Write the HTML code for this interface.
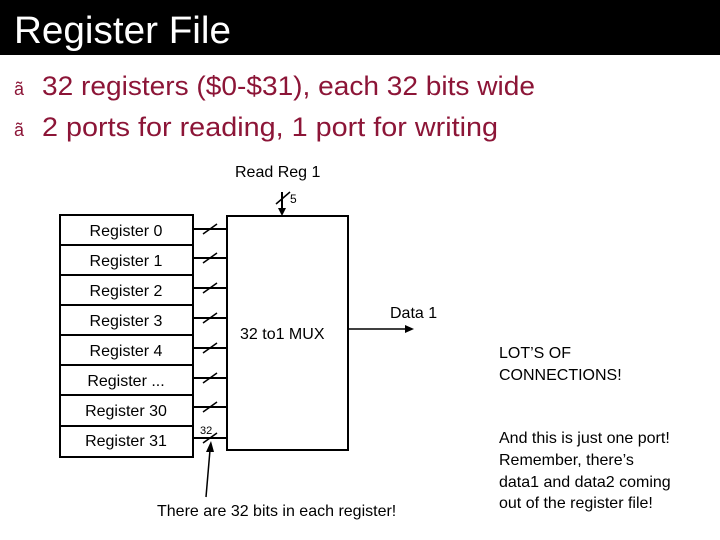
<!DOCTYPE html>
<html><head><style>
html,body{margin:0;padding:0;width:720px;height:540px;overflow:hidden;background:#fff}
svg{display:block}
</style></head><body>
<svg width="720" height="540" xmlns="http://www.w3.org/2000/svg" font-family="Liberation Sans, Arial, sans-serif">
<rect x="0" y="0" width="720" height="55" fill="#000"/>
<text x="14" y="43" fill="#fff" font-size="38" textLength="217" lengthAdjust="spacingAndGlyphs">Register File</text>
<g fill="#8c1537">
<text x="14" y="95" font-size="18">ã</text>
<text x="42" y="95" font-size="27" textLength="493" lengthAdjust="spacingAndGlyphs">32 registers ($0-$31), each 32 bits wide</text>
<text x="14" y="136" font-size="18">ã</text>
<text x="42" y="136" font-size="27" textLength="456" lengthAdjust="spacingAndGlyphs">2 ports for reading, 1 port for writing</text>
</g>
<g font-size="16" fill="#000">
<text x="235" y="177">Read Reg 1</text>
<text x="290" y="203" font-size="12">5</text>
<text x="390" y="318">Data 1</text>
<text x="240" y="339">32 to1 MUX</text>
<text x="499" y="358">LOT’S OF</text>
<text x="499" y="380">CONNECTIONS!</text>
<text x="499" y="443">And this is just one port!</text>
<text x="499" y="465">Remember, there’s</text>
<text x="499" y="487">data1 and data2 coming</text>
<text x="499" y="508">out of the register file!</text>
<text x="157" y="516">There are 32 bits in each register!</text>
<text x="200" y="434" font-size="11">32</text>
</g>
<g stroke="#000" fill="none" stroke-width="2">
<rect x="60" y="215" width="133" height="242"/>
<line x1="60" y1="245" x2="193" y2="245"/>
<line x1="60" y1="275" x2="193" y2="275"/>
<line x1="60" y1="305" x2="193" y2="305"/>
<line x1="60" y1="335" x2="193" y2="335"/>
<line x1="60" y1="365" x2="193" y2="365"/>
<line x1="60" y1="395" x2="193" y2="395"/>
<line x1="60" y1="426" x2="193" y2="426"/>
<rect x="227" y="216" width="121" height="234"/>
<line x1="282" y1="192" x2="282" y2="210"/>
<line x1="276" y1="204" x2="290" y2="192" stroke-width="1.5"/>
<line x1="348" y1="329" x2="408" y2="329" stroke-width="1.5"/>
</g>
<polygon points="282,216 278,208 286,208" fill="#000"/>
<polygon points="414,329 405,325 405,333" fill="#000"/>
<g stroke="#000" stroke-width="2">
<line x1="193" y1="229" x2="227" y2="229"/><line x1="203" y1="234" x2="217" y2="224" stroke-width="1.5"/>
<line x1="193" y1="258" x2="227" y2="258"/><line x1="203" y1="263" x2="217" y2="253" stroke-width="1.5"/>
<line x1="193" y1="288" x2="227" y2="288"/><line x1="203" y1="293" x2="217" y2="283" stroke-width="1.5"/>
<line x1="193" y1="318" x2="227" y2="318"/><line x1="203" y1="323" x2="217" y2="313" stroke-width="1.5"/>
<line x1="193" y1="348" x2="227" y2="348"/><line x1="203" y1="353" x2="217" y2="343" stroke-width="1.5"/>
<line x1="193" y1="378" x2="227" y2="378"/><line x1="203" y1="383" x2="217" y2="373" stroke-width="1.5"/>
<line x1="193" y1="407" x2="227" y2="407"/><line x1="203" y1="412" x2="217" y2="402" stroke-width="1.5"/>
<line x1="193" y1="438" x2="227" y2="438"/><line x1="203" y1="443" x2="217" y2="433" stroke-width="1.5"/>
<line x1="206" y1="497" x2="210" y2="450" stroke-width="1.5"/>
</g>
<polygon points="211,441 206,452 214,452" fill="#000"/>
<g font-size="16" fill="#000" text-anchor="middle">
<text x="126" y="236">Register 0</text>
<text x="126" y="266">Register 1</text>
<text x="126" y="296">Register 2</text>
<text x="126" y="326">Register 3</text>
<text x="126" y="356">Register 4</text>
<text x="126" y="386">Register ...</text>
<text x="126" y="416">Register 30</text>
<text x="126" y="446">Register 31</text>
</g>
</svg>
</body></html>
